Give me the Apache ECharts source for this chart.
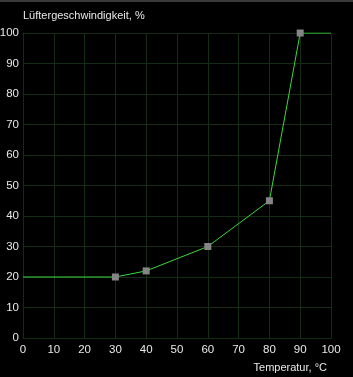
<!DOCTYPE html>
<html><head><meta charset="utf-8">
<script src="https://cdn.jsdelivr.net/npm/echarts@6/dist/echarts.min.js"></script>
<style>html,body{margin:0;padding:0;background:#000;}#c{width:353px;height:377px;}</style>
</head><body><div id="c"></div>
<script>
const temperatures = [0, 30, 40, 60, 80, 90, 100];
const fanSpeeds = [20, 20, 22, 30, 45, 100, 100];
const showMarker = [false, true, true, true, true, true, false];
const xTicks = [0,10,20,30,40,50,60,70,80,90,100];
const yTicks = [0,10,20,30,40,50,60,70,80,90,100];
const yTitle = 'Lüftergeschwindigkeit, %';
const xTitle = 'Temperatur, °C';

const chart = echarts.init(document.getElementById('c'), null, {renderer:'canvas'});
const font = 'Liberation Sans';
const txt = '#e8e8e8';
const gridCol = '#132c13';
chart.setOption({
  backgroundColor: '#000',
  animation: false,
  graphic: [
    {type:'rect', shape:{x:0,y:0,width:353,height:2}, style:{fill:'#3a3a3a'}},
    {type:'text', left:23, top:10, style:{text:yTitle, fill:txt, font:'11px '+font}},
    {type:'text', right:26, top:362, style:{text:xTitle, fill:txt, font:'11px '+font}}
  ],
  grid: {left:23, right:22, top:33, bottom:39, containLabel:false, outerBoundsMode:'none'},
  xAxis: {
    type:'value', min:0, max:100, interval:10,
    axisLine:{show:true, lineStyle:{color:gridCol}},
    axisTick:{show:false},
    splitLine:{show:true, lineStyle:{color:gridCol}},
    axisLabel:{color:txt, fontFamily:font, fontSize:11.5, margin:6,
      formatter: v => xTicks.includes(v) ? String(v) : ''}
  },
  yAxis: {
    type:'value', min:0, max:100, interval:10,
    axisLine:{show:true, lineStyle:{color:gridCol}},
    axisTick:{show:false},
    splitLine:{show:true, lineStyle:{color:gridCol}},
    axisLabel:{color:txt, fontFamily:font, fontSize:11.5, margin:4,
      formatter: v => yTicks.includes(v) ? String(v) : ''}
  },
  series: [{
    type:'line',
    data: temperatures.map((t,i) => ({value:[t, fanSpeeds[i]], symbol: showMarker[i] ? 'rect' : 'none'})),
    symbolSize: 7,
    lineStyle:{color:'#3ad83a', width:1},
    itemStyle:{color:'#858585', borderWidth:0},
    showSymbol: true
  }]
});
</script></body></html>
